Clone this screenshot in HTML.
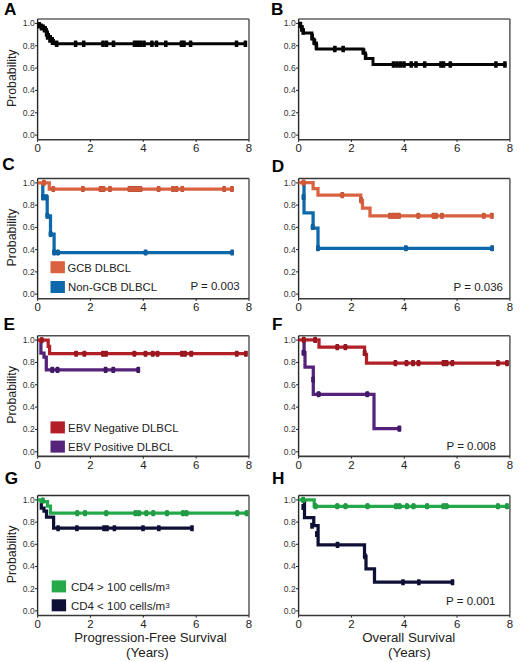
<!DOCTYPE html>
<html><head><meta charset="utf-8"><style>
html,body{margin:0;padding:0;background:#fff;}
body{width:520px;height:662px;overflow:hidden;}
svg{display:block;font-family:"Liberation Sans", sans-serif;}
</style></head><body>
<svg width="520" height="662" viewBox="0 0 520 662">
<rect width="520" height="662" fill="#fff"/>
<path d="M37.6,19.0 H249.0" fill="none" stroke="#606060" stroke-width="1.5"/>
<path d="M249.0,19.0 V139.7" fill="none" stroke="#585858" stroke-width="1.5"/>
<path d="M37.6,19.0 V139.7" fill="none" stroke="#262626" stroke-width="1.4"/>
<path d="M37.6,139.7 H249.0" fill="none" stroke="#383838" stroke-width="1.6"/>
<line x1="35.0" y1="135.10" x2="37.6" y2="135.10" stroke="#222" stroke-width="1"/>
<text x="34.7" y="138.00" font-size="8.6" fill="#333" text-anchor="end">0.0</text>
<line x1="35.0" y1="112.76" x2="37.6" y2="112.76" stroke="#222" stroke-width="1"/>
<text x="34.7" y="115.66" font-size="8.6" fill="#333" text-anchor="end">0.2</text>
<line x1="35.0" y1="90.42" x2="37.6" y2="90.42" stroke="#222" stroke-width="1"/>
<text x="34.7" y="93.32" font-size="8.6" fill="#333" text-anchor="end">0.4</text>
<line x1="35.0" y1="68.08" x2="37.6" y2="68.08" stroke="#222" stroke-width="1"/>
<text x="34.7" y="70.98" font-size="8.6" fill="#333" text-anchor="end">0.6</text>
<line x1="35.0" y1="45.74" x2="37.6" y2="45.74" stroke="#222" stroke-width="1"/>
<text x="34.7" y="48.64" font-size="8.6" fill="#333" text-anchor="end">0.8</text>
<line x1="35.0" y1="23.40" x2="37.6" y2="23.40" stroke="#222" stroke-width="1"/>
<text x="34.7" y="26.30" font-size="8.6" fill="#333" text-anchor="end">1.0</text>
<line x1="37.60" y1="139.7" x2="37.60" y2="141.89999999999998" stroke="#222" stroke-width="1"/>
<text x="37.60" y="151.80" font-size="11.4" fill="#222" text-anchor="middle">0</text>
<line x1="90.45" y1="139.7" x2="90.45" y2="141.89999999999998" stroke="#222" stroke-width="1"/>
<text x="90.45" y="151.80" font-size="11.4" fill="#222" text-anchor="middle">2</text>
<line x1="143.30" y1="139.7" x2="143.30" y2="141.89999999999998" stroke="#222" stroke-width="1"/>
<text x="143.30" y="151.80" font-size="11.4" fill="#222" text-anchor="middle">4</text>
<line x1="196.15" y1="139.7" x2="196.15" y2="141.89999999999998" stroke="#222" stroke-width="1"/>
<text x="196.15" y="151.80" font-size="11.4" fill="#222" text-anchor="middle">6</text>
<line x1="249.00" y1="139.7" x2="249.00" y2="141.89999999999998" stroke="#222" stroke-width="1"/>
<text x="249.00" y="151.80" font-size="11.4" fill="#222" text-anchor="middle">8</text>
<text transform="translate(15.5,78.3) rotate(-90)" font-size="12.35" fill="#222" text-anchor="middle">Probability</text>
<path d="M298.6,19.0 H509.9" fill="none" stroke="#606060" stroke-width="1.5"/>
<path d="M509.9,19.0 V139.7" fill="none" stroke="#585858" stroke-width="1.5"/>
<path d="M298.6,19.0 V139.7" fill="none" stroke="#262626" stroke-width="1.4"/>
<path d="M298.6,139.7 H509.9" fill="none" stroke="#383838" stroke-width="1.6"/>
<line x1="296.0" y1="135.10" x2="298.6" y2="135.10" stroke="#222" stroke-width="1"/>
<text x="295.70000000000005" y="138.00" font-size="8.6" fill="#333" text-anchor="end">0.0</text>
<line x1="296.0" y1="112.76" x2="298.6" y2="112.76" stroke="#222" stroke-width="1"/>
<text x="295.70000000000005" y="115.66" font-size="8.6" fill="#333" text-anchor="end">0.2</text>
<line x1="296.0" y1="90.42" x2="298.6" y2="90.42" stroke="#222" stroke-width="1"/>
<text x="295.70000000000005" y="93.32" font-size="8.6" fill="#333" text-anchor="end">0.4</text>
<line x1="296.0" y1="68.08" x2="298.6" y2="68.08" stroke="#222" stroke-width="1"/>
<text x="295.70000000000005" y="70.98" font-size="8.6" fill="#333" text-anchor="end">0.6</text>
<line x1="296.0" y1="45.74" x2="298.6" y2="45.74" stroke="#222" stroke-width="1"/>
<text x="295.70000000000005" y="48.64" font-size="8.6" fill="#333" text-anchor="end">0.8</text>
<line x1="296.0" y1="23.40" x2="298.6" y2="23.40" stroke="#222" stroke-width="1"/>
<text x="295.70000000000005" y="26.30" font-size="8.6" fill="#333" text-anchor="end">1.0</text>
<line x1="298.60" y1="139.7" x2="298.60" y2="141.89999999999998" stroke="#222" stroke-width="1"/>
<text x="298.60" y="151.80" font-size="11.4" fill="#222" text-anchor="middle">0</text>
<line x1="351.43" y1="139.7" x2="351.43" y2="141.89999999999998" stroke="#222" stroke-width="1"/>
<text x="351.43" y="151.80" font-size="11.4" fill="#222" text-anchor="middle">2</text>
<line x1="404.25" y1="139.7" x2="404.25" y2="141.89999999999998" stroke="#222" stroke-width="1"/>
<text x="404.25" y="151.80" font-size="11.4" fill="#222" text-anchor="middle">4</text>
<line x1="457.07" y1="139.7" x2="457.07" y2="141.89999999999998" stroke="#222" stroke-width="1"/>
<text x="457.07" y="151.80" font-size="11.4" fill="#222" text-anchor="middle">6</text>
<line x1="509.90" y1="139.7" x2="509.90" y2="141.89999999999998" stroke="#222" stroke-width="1"/>
<text x="509.90" y="151.80" font-size="11.4" fill="#222" text-anchor="middle">8</text>
<path d="M37.6,178.5 H249.0" fill="none" stroke="#383838" stroke-width="1.5"/>
<path d="M249.0,178.5 V298.7" fill="none" stroke="#585858" stroke-width="1.5"/>
<path d="M37.6,178.5 V298.7" fill="none" stroke="#262626" stroke-width="1.4"/>
<path d="M37.6,298.7 H249.0" fill="none" stroke="#383838" stroke-width="1.6"/>
<line x1="35.0" y1="294.10" x2="37.6" y2="294.10" stroke="#222" stroke-width="1"/>
<text x="34.7" y="297.00" font-size="8.6" fill="#333" text-anchor="end">0.0</text>
<line x1="35.0" y1="271.86" x2="37.6" y2="271.86" stroke="#222" stroke-width="1"/>
<text x="34.7" y="274.76" font-size="8.6" fill="#333" text-anchor="end">0.2</text>
<line x1="35.0" y1="249.62" x2="37.6" y2="249.62" stroke="#222" stroke-width="1"/>
<text x="34.7" y="252.52" font-size="8.6" fill="#333" text-anchor="end">0.4</text>
<line x1="35.0" y1="227.38" x2="37.6" y2="227.38" stroke="#222" stroke-width="1"/>
<text x="34.7" y="230.28" font-size="8.6" fill="#333" text-anchor="end">0.6</text>
<line x1="35.0" y1="205.14" x2="37.6" y2="205.14" stroke="#222" stroke-width="1"/>
<text x="34.7" y="208.04" font-size="8.6" fill="#333" text-anchor="end">0.8</text>
<line x1="35.0" y1="182.90" x2="37.6" y2="182.90" stroke="#222" stroke-width="1"/>
<text x="34.7" y="185.80" font-size="8.6" fill="#333" text-anchor="end">1.0</text>
<line x1="37.60" y1="298.7" x2="37.60" y2="300.9" stroke="#222" stroke-width="1"/>
<text x="37.60" y="310.80" font-size="11.4" fill="#222" text-anchor="middle">0</text>
<line x1="90.45" y1="298.7" x2="90.45" y2="300.9" stroke="#222" stroke-width="1"/>
<text x="90.45" y="310.80" font-size="11.4" fill="#222" text-anchor="middle">2</text>
<line x1="143.30" y1="298.7" x2="143.30" y2="300.9" stroke="#222" stroke-width="1"/>
<text x="143.30" y="310.80" font-size="11.4" fill="#222" text-anchor="middle">4</text>
<line x1="196.15" y1="298.7" x2="196.15" y2="300.9" stroke="#222" stroke-width="1"/>
<text x="196.15" y="310.80" font-size="11.4" fill="#222" text-anchor="middle">6</text>
<line x1="249.00" y1="298.7" x2="249.00" y2="300.9" stroke="#222" stroke-width="1"/>
<text x="249.00" y="310.80" font-size="11.4" fill="#222" text-anchor="middle">8</text>
<text transform="translate(15.5,237.6) rotate(-90)" font-size="12.35" fill="#222" text-anchor="middle">Probability</text>
<path d="M298.6,178.5 H509.9" fill="none" stroke="#383838" stroke-width="1.5"/>
<path d="M509.9,178.5 V298.7" fill="none" stroke="#585858" stroke-width="1.5"/>
<path d="M298.6,178.5 V298.7" fill="none" stroke="#262626" stroke-width="1.4"/>
<path d="M298.6,298.7 H509.9" fill="none" stroke="#383838" stroke-width="1.6"/>
<line x1="296.0" y1="294.10" x2="298.6" y2="294.10" stroke="#222" stroke-width="1"/>
<text x="295.70000000000005" y="297.00" font-size="8.6" fill="#333" text-anchor="end">0.0</text>
<line x1="296.0" y1="271.86" x2="298.6" y2="271.86" stroke="#222" stroke-width="1"/>
<text x="295.70000000000005" y="274.76" font-size="8.6" fill="#333" text-anchor="end">0.2</text>
<line x1="296.0" y1="249.62" x2="298.6" y2="249.62" stroke="#222" stroke-width="1"/>
<text x="295.70000000000005" y="252.52" font-size="8.6" fill="#333" text-anchor="end">0.4</text>
<line x1="296.0" y1="227.38" x2="298.6" y2="227.38" stroke="#222" stroke-width="1"/>
<text x="295.70000000000005" y="230.28" font-size="8.6" fill="#333" text-anchor="end">0.6</text>
<line x1="296.0" y1="205.14" x2="298.6" y2="205.14" stroke="#222" stroke-width="1"/>
<text x="295.70000000000005" y="208.04" font-size="8.6" fill="#333" text-anchor="end">0.8</text>
<line x1="296.0" y1="182.90" x2="298.6" y2="182.90" stroke="#222" stroke-width="1"/>
<text x="295.70000000000005" y="185.80" font-size="8.6" fill="#333" text-anchor="end">1.0</text>
<line x1="298.60" y1="298.7" x2="298.60" y2="300.9" stroke="#222" stroke-width="1"/>
<text x="298.60" y="310.80" font-size="11.4" fill="#222" text-anchor="middle">0</text>
<line x1="351.43" y1="298.7" x2="351.43" y2="300.9" stroke="#222" stroke-width="1"/>
<text x="351.43" y="310.80" font-size="11.4" fill="#222" text-anchor="middle">2</text>
<line x1="404.25" y1="298.7" x2="404.25" y2="300.9" stroke="#222" stroke-width="1"/>
<text x="404.25" y="310.80" font-size="11.4" fill="#222" text-anchor="middle">4</text>
<line x1="457.07" y1="298.7" x2="457.07" y2="300.9" stroke="#222" stroke-width="1"/>
<text x="457.07" y="310.80" font-size="11.4" fill="#222" text-anchor="middle">6</text>
<line x1="509.90" y1="298.7" x2="509.90" y2="300.9" stroke="#222" stroke-width="1"/>
<text x="509.90" y="310.80" font-size="11.4" fill="#222" text-anchor="middle">8</text>
<path d="M37.6,335.7 H249.0" fill="none" stroke="#505050" stroke-width="1.5"/>
<path d="M249.0,335.7 V456.4" fill="none" stroke="#585858" stroke-width="1.5"/>
<path d="M37.6,335.7 V456.4" fill="none" stroke="#262626" stroke-width="1.4"/>
<path d="M37.6,456.4 H249.0" fill="none" stroke="#383838" stroke-width="1.6"/>
<line x1="35.0" y1="451.80" x2="37.6" y2="451.80" stroke="#222" stroke-width="1"/>
<text x="34.7" y="454.70" font-size="8.6" fill="#333" text-anchor="end">0.0</text>
<line x1="35.0" y1="429.46" x2="37.6" y2="429.46" stroke="#222" stroke-width="1"/>
<text x="34.7" y="432.36" font-size="8.6" fill="#333" text-anchor="end">0.2</text>
<line x1="35.0" y1="407.12" x2="37.6" y2="407.12" stroke="#222" stroke-width="1"/>
<text x="34.7" y="410.02" font-size="8.6" fill="#333" text-anchor="end">0.4</text>
<line x1="35.0" y1="384.78" x2="37.6" y2="384.78" stroke="#222" stroke-width="1"/>
<text x="34.7" y="387.68" font-size="8.6" fill="#333" text-anchor="end">0.6</text>
<line x1="35.0" y1="362.44" x2="37.6" y2="362.44" stroke="#222" stroke-width="1"/>
<text x="34.7" y="365.34" font-size="8.6" fill="#333" text-anchor="end">0.8</text>
<line x1="35.0" y1="340.10" x2="37.6" y2="340.10" stroke="#222" stroke-width="1"/>
<text x="34.7" y="343.00" font-size="8.6" fill="#333" text-anchor="end">1.0</text>
<line x1="37.60" y1="456.4" x2="37.60" y2="458.59999999999997" stroke="#222" stroke-width="1"/>
<text x="37.60" y="468.50" font-size="11.4" fill="#222" text-anchor="middle">0</text>
<line x1="90.45" y1="456.4" x2="90.45" y2="458.59999999999997" stroke="#222" stroke-width="1"/>
<text x="90.45" y="468.50" font-size="11.4" fill="#222" text-anchor="middle">2</text>
<line x1="143.30" y1="456.4" x2="143.30" y2="458.59999999999997" stroke="#222" stroke-width="1"/>
<text x="143.30" y="468.50" font-size="11.4" fill="#222" text-anchor="middle">4</text>
<line x1="196.15" y1="456.4" x2="196.15" y2="458.59999999999997" stroke="#222" stroke-width="1"/>
<text x="196.15" y="468.50" font-size="11.4" fill="#222" text-anchor="middle">6</text>
<line x1="249.00" y1="456.4" x2="249.00" y2="458.59999999999997" stroke="#222" stroke-width="1"/>
<text x="249.00" y="468.50" font-size="11.4" fill="#222" text-anchor="middle">8</text>
<text transform="translate(15.5,395.0) rotate(-90)" font-size="12.35" fill="#222" text-anchor="middle">Probability</text>
<path d="M298.6,335.7 H509.9" fill="none" stroke="#505050" stroke-width="1.5"/>
<path d="M509.9,335.7 V456.4" fill="none" stroke="#585858" stroke-width="1.5"/>
<path d="M298.6,335.7 V456.4" fill="none" stroke="#262626" stroke-width="1.4"/>
<path d="M298.6,456.4 H509.9" fill="none" stroke="#383838" stroke-width="1.6"/>
<line x1="296.0" y1="451.80" x2="298.6" y2="451.80" stroke="#222" stroke-width="1"/>
<text x="295.70000000000005" y="454.70" font-size="8.6" fill="#333" text-anchor="end">0.0</text>
<line x1="296.0" y1="429.46" x2="298.6" y2="429.46" stroke="#222" stroke-width="1"/>
<text x="295.70000000000005" y="432.36" font-size="8.6" fill="#333" text-anchor="end">0.2</text>
<line x1="296.0" y1="407.12" x2="298.6" y2="407.12" stroke="#222" stroke-width="1"/>
<text x="295.70000000000005" y="410.02" font-size="8.6" fill="#333" text-anchor="end">0.4</text>
<line x1="296.0" y1="384.78" x2="298.6" y2="384.78" stroke="#222" stroke-width="1"/>
<text x="295.70000000000005" y="387.68" font-size="8.6" fill="#333" text-anchor="end">0.6</text>
<line x1="296.0" y1="362.44" x2="298.6" y2="362.44" stroke="#222" stroke-width="1"/>
<text x="295.70000000000005" y="365.34" font-size="8.6" fill="#333" text-anchor="end">0.8</text>
<line x1="296.0" y1="340.10" x2="298.6" y2="340.10" stroke="#222" stroke-width="1"/>
<text x="295.70000000000005" y="343.00" font-size="8.6" fill="#333" text-anchor="end">1.0</text>
<line x1="298.60" y1="456.4" x2="298.60" y2="458.59999999999997" stroke="#222" stroke-width="1"/>
<text x="298.60" y="468.50" font-size="11.4" fill="#222" text-anchor="middle">0</text>
<line x1="351.43" y1="456.4" x2="351.43" y2="458.59999999999997" stroke="#222" stroke-width="1"/>
<text x="351.43" y="468.50" font-size="11.4" fill="#222" text-anchor="middle">2</text>
<line x1="404.25" y1="456.4" x2="404.25" y2="458.59999999999997" stroke="#222" stroke-width="1"/>
<text x="404.25" y="468.50" font-size="11.4" fill="#222" text-anchor="middle">4</text>
<line x1="457.07" y1="456.4" x2="457.07" y2="458.59999999999997" stroke="#222" stroke-width="1"/>
<text x="457.07" y="468.50" font-size="11.4" fill="#222" text-anchor="middle">6</text>
<line x1="509.90" y1="456.4" x2="509.90" y2="458.59999999999997" stroke="#222" stroke-width="1"/>
<text x="509.90" y="468.50" font-size="11.4" fill="#222" text-anchor="middle">8</text>
<path d="M37.6,495.5 H249.0" fill="none" stroke="#2c2c2c" stroke-width="1.5"/>
<path d="M249.0,495.5 V615.5" fill="none" stroke="#585858" stroke-width="1.5"/>
<path d="M37.6,495.5 V615.5" fill="none" stroke="#262626" stroke-width="1.4"/>
<path d="M37.6,615.5 H249.0" fill="none" stroke="#383838" stroke-width="1.6"/>
<line x1="35.0" y1="610.90" x2="37.6" y2="610.90" stroke="#222" stroke-width="1"/>
<text x="34.7" y="613.80" font-size="8.6" fill="#333" text-anchor="end">0.0</text>
<line x1="35.0" y1="588.70" x2="37.6" y2="588.70" stroke="#222" stroke-width="1"/>
<text x="34.7" y="591.60" font-size="8.6" fill="#333" text-anchor="end">0.2</text>
<line x1="35.0" y1="566.50" x2="37.6" y2="566.50" stroke="#222" stroke-width="1"/>
<text x="34.7" y="569.40" font-size="8.6" fill="#333" text-anchor="end">0.4</text>
<line x1="35.0" y1="544.30" x2="37.6" y2="544.30" stroke="#222" stroke-width="1"/>
<text x="34.7" y="547.20" font-size="8.6" fill="#333" text-anchor="end">0.6</text>
<line x1="35.0" y1="522.10" x2="37.6" y2="522.10" stroke="#222" stroke-width="1"/>
<text x="34.7" y="525.00" font-size="8.6" fill="#333" text-anchor="end">0.8</text>
<line x1="35.0" y1="499.90" x2="37.6" y2="499.90" stroke="#222" stroke-width="1"/>
<text x="34.7" y="502.80" font-size="8.6" fill="#333" text-anchor="end">1.0</text>
<line x1="37.60" y1="615.5" x2="37.60" y2="617.7" stroke="#222" stroke-width="1"/>
<text x="37.60" y="627.60" font-size="11.4" fill="#222" text-anchor="middle">0</text>
<line x1="90.45" y1="615.5" x2="90.45" y2="617.7" stroke="#222" stroke-width="1"/>
<text x="90.45" y="627.60" font-size="11.4" fill="#222" text-anchor="middle">2</text>
<line x1="143.30" y1="615.5" x2="143.30" y2="617.7" stroke="#222" stroke-width="1"/>
<text x="143.30" y="627.60" font-size="11.4" fill="#222" text-anchor="middle">4</text>
<line x1="196.15" y1="615.5" x2="196.15" y2="617.7" stroke="#222" stroke-width="1"/>
<text x="196.15" y="627.60" font-size="11.4" fill="#222" text-anchor="middle">6</text>
<line x1="249.00" y1="615.5" x2="249.00" y2="617.7" stroke="#222" stroke-width="1"/>
<text x="249.00" y="627.60" font-size="11.4" fill="#222" text-anchor="middle">8</text>
<text transform="translate(15.5,554.5) rotate(-90)" font-size="12.35" fill="#222" text-anchor="middle">Probability</text>
<path d="M298.6,495.5 H509.9" fill="none" stroke="#2c2c2c" stroke-width="1.5"/>
<path d="M509.9,495.5 V615.5" fill="none" stroke="#585858" stroke-width="1.5"/>
<path d="M298.6,495.5 V615.5" fill="none" stroke="#262626" stroke-width="1.4"/>
<path d="M298.6,615.5 H509.9" fill="none" stroke="#383838" stroke-width="1.6"/>
<line x1="296.0" y1="610.90" x2="298.6" y2="610.90" stroke="#222" stroke-width="1"/>
<text x="295.70000000000005" y="613.80" font-size="8.6" fill="#333" text-anchor="end">0.0</text>
<line x1="296.0" y1="588.70" x2="298.6" y2="588.70" stroke="#222" stroke-width="1"/>
<text x="295.70000000000005" y="591.60" font-size="8.6" fill="#333" text-anchor="end">0.2</text>
<line x1="296.0" y1="566.50" x2="298.6" y2="566.50" stroke="#222" stroke-width="1"/>
<text x="295.70000000000005" y="569.40" font-size="8.6" fill="#333" text-anchor="end">0.4</text>
<line x1="296.0" y1="544.30" x2="298.6" y2="544.30" stroke="#222" stroke-width="1"/>
<text x="295.70000000000005" y="547.20" font-size="8.6" fill="#333" text-anchor="end">0.6</text>
<line x1="296.0" y1="522.10" x2="298.6" y2="522.10" stroke="#222" stroke-width="1"/>
<text x="295.70000000000005" y="525.00" font-size="8.6" fill="#333" text-anchor="end">0.8</text>
<line x1="296.0" y1="499.90" x2="298.6" y2="499.90" stroke="#222" stroke-width="1"/>
<text x="295.70000000000005" y="502.80" font-size="8.6" fill="#333" text-anchor="end">1.0</text>
<line x1="298.60" y1="615.5" x2="298.60" y2="617.7" stroke="#222" stroke-width="1"/>
<text x="298.60" y="627.60" font-size="11.4" fill="#222" text-anchor="middle">0</text>
<line x1="351.43" y1="615.5" x2="351.43" y2="617.7" stroke="#222" stroke-width="1"/>
<text x="351.43" y="627.60" font-size="11.4" fill="#222" text-anchor="middle">2</text>
<line x1="404.25" y1="615.5" x2="404.25" y2="617.7" stroke="#222" stroke-width="1"/>
<text x="404.25" y="627.60" font-size="11.4" fill="#222" text-anchor="middle">4</text>
<line x1="457.07" y1="615.5" x2="457.07" y2="617.7" stroke="#222" stroke-width="1"/>
<text x="457.07" y="627.60" font-size="11.4" fill="#222" text-anchor="middle">6</text>
<line x1="509.90" y1="615.5" x2="509.90" y2="617.7" stroke="#222" stroke-width="1"/>
<text x="509.90" y="627.60" font-size="11.4" fill="#222" text-anchor="middle">8</text>
<text x="4.0" y="15.0" font-size="17.2" font-weight="bold" fill="#000">A</text>
<text x="270.9" y="14.6" font-size="17.2" font-weight="bold" fill="#000">B</text>
<text x="2.2" y="170.3" font-size="17.2" font-weight="bold" fill="#000">C</text>
<text x="271.8" y="172.0" font-size="17.2" font-weight="bold" fill="#000">D</text>
<text x="3.6" y="330.3" font-size="17.2" font-weight="bold" fill="#000">E</text>
<text x="272.0" y="330.3" font-size="17.2" font-weight="bold" fill="#000">F</text>
<text x="4.8" y="484.2" font-size="17.2" font-weight="bold" fill="#000">G</text>
<text x="272.0" y="484.3" font-size="17.2" font-weight="bold" fill="#000">H</text>
<path d="M37.6,23.7 H39.5 V25 H41.5 V26 H43.5 V27.5 H45.5 V29.5 H46.5 V32 H47.5 V34.5 H48.5 V36.5 H50.5 V38.5 H52.5 V40.5 H53.5 V42.5 H55 V43.7 H247" fill="none" stroke="#050505" stroke-width="2.9" stroke-linejoin="miter" stroke-linecap="butt"/>
<rect x="54.90" y="40.50" width="3.60" height="6.40" rx="0.5" fill="#050505"/>
<rect x="73.80" y="40.50" width="3.60" height="6.40" rx="0.5" fill="#050505"/>
<rect x="81.90" y="40.50" width="3.60" height="6.40" rx="0.5" fill="#050505"/>
<rect x="101.20" y="40.50" width="3.60" height="6.40" rx="0.5" fill="#050505"/>
<rect x="104.70" y="40.50" width="3.60" height="6.40" rx="0.5" fill="#050505"/>
<rect x="111.70" y="40.50" width="3.60" height="6.40" rx="0.5" fill="#050505"/>
<rect x="132.70" y="40.50" width="3.60" height="6.40" rx="0.5" fill="#050505"/>
<rect x="135.70" y="40.50" width="3.60" height="6.40" rx="0.5" fill="#050505"/>
<rect x="138.70" y="40.50" width="3.60" height="6.40" rx="0.5" fill="#050505"/>
<rect x="142.20" y="40.50" width="3.60" height="6.40" rx="0.5" fill="#050505"/>
<rect x="150.10" y="40.50" width="3.60" height="6.40" rx="0.5" fill="#050505"/>
<rect x="154.70" y="40.50" width="3.60" height="6.40" rx="0.5" fill="#050505"/>
<rect x="164.00" y="40.50" width="3.60" height="6.40" rx="0.5" fill="#050505"/>
<rect x="179.70" y="40.50" width="3.60" height="6.40" rx="0.5" fill="#050505"/>
<rect x="182.20" y="40.50" width="3.60" height="6.40" rx="0.5" fill="#050505"/>
<rect x="188.80" y="40.50" width="3.60" height="6.40" rx="0.5" fill="#050505"/>
<rect x="234.70" y="40.50" width="3.60" height="6.40" rx="0.5" fill="#050505"/>
<rect x="243.60" y="40.50" width="3.60" height="6.40" rx="0.5" fill="#050505"/>
<rect x="37.20" y="22.00" width="3.60" height="6.40" rx="0.5" fill="#050505"/>
<rect x="39.70" y="24.00" width="3.60" height="6.40" rx="0.5" fill="#050505"/>
<rect x="42.70" y="26.00" width="3.60" height="6.40" rx="0.5" fill="#050505"/>
<rect x="44.80" y="30.30" width="3.60" height="6.40" rx="0.5" fill="#050505"/>
<rect x="45.80" y="33.30" width="3.60" height="6.40" rx="0.5" fill="#050505"/>
<rect x="48.20" y="36.30" width="3.60" height="6.40" rx="0.5" fill="#050505"/>
<rect x="50.70" y="38.60" width="3.60" height="6.40" rx="0.5" fill="#050505"/>
<path d="M298.6,23.5 H300.5 V26.5 H302 V30 H303.5 V33 H312 V39 H314 V43 H316.5 V49 H363 V53 H365.5 V58.5 H373 V64.5 H506.5" fill="none" stroke="#050505" stroke-width="2.9" stroke-linejoin="miter" stroke-linecap="butt"/>
<rect x="391.70" y="61.30" width="3.60" height="6.40" rx="0.5" fill="#050505"/>
<rect x="395.20" y="61.30" width="3.60" height="6.40" rx="0.5" fill="#050505"/>
<rect x="398.70" y="61.30" width="3.60" height="6.40" rx="0.5" fill="#050505"/>
<rect x="402.20" y="61.30" width="3.60" height="6.40" rx="0.5" fill="#050505"/>
<rect x="409.40" y="61.30" width="3.60" height="6.40" rx="0.5" fill="#050505"/>
<rect x="414.20" y="61.30" width="3.60" height="6.40" rx="0.5" fill="#050505"/>
<rect x="422.90" y="61.30" width="3.60" height="6.40" rx="0.5" fill="#050505"/>
<rect x="439.20" y="61.30" width="3.60" height="6.40" rx="0.5" fill="#050505"/>
<rect x="441.70" y="61.30" width="3.60" height="6.40" rx="0.5" fill="#050505"/>
<rect x="448.50" y="61.30" width="3.60" height="6.40" rx="0.5" fill="#050505"/>
<rect x="494.10" y="61.30" width="3.60" height="6.40" rx="0.5" fill="#050505"/>
<rect x="503.10" y="61.30" width="3.60" height="6.40" rx="0.5" fill="#050505"/>
<rect x="333.00" y="45.80" width="3.60" height="6.40" rx="0.5" fill="#050505"/>
<rect x="341.40" y="45.80" width="3.60" height="6.40" rx="0.5" fill="#050505"/>
<rect x="298.60" y="21.80" width="3.60" height="6.40" rx="0.5" fill="#050505"/>
<rect x="300.10" y="25.30" width="3.60" height="6.40" rx="0.5" fill="#050505"/>
<rect x="301.40" y="28.30" width="3.60" height="6.40" rx="0.5" fill="#050505"/>
<rect x="310.40" y="33.80" width="3.60" height="6.40" rx="0.5" fill="#050505"/>
<rect x="312.60" y="38.80" width="3.60" height="6.40" rx="0.5" fill="#050505"/>
<rect x="314.60" y="43.30" width="3.60" height="6.40" rx="0.5" fill="#050505"/>
<rect x="361.80" y="48.30" width="3.60" height="6.40" rx="0.5" fill="#050505"/>
<rect x="363.80" y="53.30" width="3.60" height="6.40" rx="0.5" fill="#050505"/>
<path d="M42.8,182.8 V197.2 H47.2 V215.8 H50.5 V234 H54.1 V252.5 H233.5" fill="none" stroke="#0D69AC" stroke-width="3.25" stroke-linejoin="miter" stroke-linecap="butt"/>
<rect x="56.10" y="249.45" width="3.60" height="6.10" rx="1" fill="#0A4E85"/>
<rect x="143.80" y="249.45" width="3.60" height="6.10" rx="1" fill="#0A4E85"/>
<rect x="230.40" y="249.45" width="3.60" height="6.10" rx="1" fill="#0A4E85"/>
<rect x="41.20" y="194.35" width="3.60" height="6.10" rx="1" fill="#0A4E85"/>
<rect x="44.50" y="194.35" width="3.60" height="6.10" rx="1" fill="#0A4E85"/>
<rect x="45.60" y="212.75" width="3.60" height="6.10" rx="1" fill="#0A4E85"/>
<rect x="48.80" y="230.95" width="3.60" height="6.10" rx="1" fill="#0A4E85"/>
<rect x="52.40" y="249.45" width="3.60" height="6.10" rx="1" fill="#0A4E85"/>
<rect x="56.10" y="249.90" width="3.60" height="5.20" rx="0.5" fill="#0C62A2"/>
<rect x="143.80" y="249.90" width="3.60" height="5.20" rx="0.5" fill="#0C62A2"/>
<rect x="230.40" y="249.90" width="3.60" height="5.20" rx="0.5" fill="#0C62A2"/>
<rect x="41.20" y="194.80" width="3.60" height="5.20" rx="0.5" fill="#0C62A2"/>
<rect x="44.50" y="194.80" width="3.60" height="5.20" rx="0.5" fill="#0C62A2"/>
<rect x="45.60" y="213.20" width="3.60" height="5.20" rx="0.5" fill="#0C62A2"/>
<rect x="48.80" y="231.40" width="3.60" height="5.20" rx="0.5" fill="#0C62A2"/>
<rect x="52.40" y="249.90" width="3.60" height="5.20" rx="0.5" fill="#0C62A2"/>
<path d="M37.6,182.8 H49.3 V189 H233.5" fill="none" stroke="#DA6240" stroke-width="3.25" stroke-linejoin="miter" stroke-linecap="butt"/>
<rect x="51.50" y="185.95" width="3.60" height="6.10" rx="1" fill="#A8432A"/>
<rect x="81.00" y="185.95" width="3.60" height="6.10" rx="1" fill="#A8432A"/>
<rect x="98.70" y="185.95" width="3.60" height="6.10" rx="1" fill="#A8432A"/>
<rect x="101.70" y="185.95" width="3.60" height="6.10" rx="1" fill="#A8432A"/>
<rect x="108.20" y="185.95" width="3.60" height="6.10" rx="1" fill="#A8432A"/>
<rect x="127.70" y="185.95" width="3.60" height="6.10" rx="1" fill="#A8432A"/>
<rect x="130.70" y="185.95" width="3.60" height="6.10" rx="1" fill="#A8432A"/>
<rect x="133.70" y="185.95" width="3.60" height="6.10" rx="1" fill="#A8432A"/>
<rect x="136.70" y="185.95" width="3.60" height="6.10" rx="1" fill="#A8432A"/>
<rect x="138.70" y="185.95" width="3.60" height="6.10" rx="1" fill="#A8432A"/>
<rect x="156.80" y="185.95" width="3.60" height="6.10" rx="1" fill="#A8432A"/>
<rect x="171.20" y="185.95" width="3.60" height="6.10" rx="1" fill="#A8432A"/>
<rect x="174.70" y="185.95" width="3.60" height="6.10" rx="1" fill="#A8432A"/>
<rect x="180.50" y="185.95" width="3.60" height="6.10" rx="1" fill="#A8432A"/>
<rect x="222.40" y="185.95" width="3.60" height="6.10" rx="1" fill="#A8432A"/>
<rect x="230.20" y="185.95" width="3.60" height="6.10" rx="1" fill="#A8432A"/>
<rect x="42.00" y="179.75" width="3.60" height="6.10" rx="1" fill="#A8432A"/>
<rect x="51.50" y="186.40" width="3.60" height="5.20" rx="0.5" fill="#D05A3A"/>
<rect x="81.00" y="186.40" width="3.60" height="5.20" rx="0.5" fill="#D05A3A"/>
<rect x="98.70" y="186.40" width="3.60" height="5.20" rx="0.5" fill="#D05A3A"/>
<rect x="101.70" y="186.40" width="3.60" height="5.20" rx="0.5" fill="#D05A3A"/>
<rect x="108.20" y="186.40" width="3.60" height="5.20" rx="0.5" fill="#D05A3A"/>
<rect x="127.70" y="186.40" width="3.60" height="5.20" rx="0.5" fill="#D05A3A"/>
<rect x="130.70" y="186.40" width="3.60" height="5.20" rx="0.5" fill="#D05A3A"/>
<rect x="133.70" y="186.40" width="3.60" height="5.20" rx="0.5" fill="#D05A3A"/>
<rect x="136.70" y="186.40" width="3.60" height="5.20" rx="0.5" fill="#D05A3A"/>
<rect x="138.70" y="186.40" width="3.60" height="5.20" rx="0.5" fill="#D05A3A"/>
<rect x="156.80" y="186.40" width="3.60" height="5.20" rx="0.5" fill="#D05A3A"/>
<rect x="171.20" y="186.40" width="3.60" height="5.20" rx="0.5" fill="#D05A3A"/>
<rect x="174.70" y="186.40" width="3.60" height="5.20" rx="0.5" fill="#D05A3A"/>
<rect x="180.50" y="186.40" width="3.60" height="5.20" rx="0.5" fill="#D05A3A"/>
<rect x="222.40" y="186.40" width="3.60" height="5.20" rx="0.5" fill="#D05A3A"/>
<rect x="230.20" y="186.40" width="3.60" height="5.20" rx="0.5" fill="#D05A3A"/>
<rect x="42.00" y="180.20" width="3.60" height="5.20" rx="0.5" fill="#D05A3A"/>
<rect x="50.5" y="261.2" width="14.4" height="12" fill="#DA6240"/>
<text x="67.5" y="271.5" font-size="11.2" fill="#222">GCB DLBCL</text>
<rect x="50.5" y="281.0" width="14.4" height="12" fill="#0D69AC"/>
<text x="68.1" y="291.3" font-size="11.35" fill="#222">Non-GCB DLBCL</text>
<text x="190.4" y="289.6" font-size="11.5" fill="#222">P = 0.003</text>
<path d="M304,182.6 V212.8 H313.1 V228 H318 V248.3 H493" fill="none" stroke="#0D69AC" stroke-width="3.25" stroke-linejoin="miter" stroke-linecap="butt"/>
<rect x="316.10" y="245.25" width="3.60" height="6.10" rx="1" fill="#0A4E85"/>
<rect x="404.00" y="245.25" width="3.60" height="6.10" rx="1" fill="#0A4E85"/>
<rect x="490.30" y="245.25" width="3.60" height="6.10" rx="1" fill="#0A4E85"/>
<rect x="301.70" y="193.95" width="3.60" height="6.10" rx="1" fill="#0A4E85"/>
<rect x="310.80" y="223.95" width="3.60" height="6.10" rx="1" fill="#0A4E85"/>
<rect x="316.10" y="245.70" width="3.60" height="5.20" rx="0.5" fill="#0C62A2"/>
<rect x="404.00" y="245.70" width="3.60" height="5.20" rx="0.5" fill="#0C62A2"/>
<rect x="490.30" y="245.70" width="3.60" height="5.20" rx="0.5" fill="#0C62A2"/>
<rect x="301.70" y="194.40" width="3.60" height="5.20" rx="0.5" fill="#0C62A2"/>
<rect x="310.80" y="224.40" width="3.60" height="5.20" rx="0.5" fill="#0C62A2"/>
<path d="M298.6,182.6 H313.1 V188.7 H318 V195.1 H360.8 V200.4 H362.5 V208 H370 V215.8 H493" fill="none" stroke="#DA6240" stroke-width="3.25" stroke-linejoin="miter" stroke-linecap="butt"/>
<rect x="388.20" y="212.75" width="3.60" height="6.10" rx="1" fill="#A8432A"/>
<rect x="391.20" y="212.75" width="3.60" height="6.10" rx="1" fill="#A8432A"/>
<rect x="394.20" y="212.75" width="3.60" height="6.10" rx="1" fill="#A8432A"/>
<rect x="397.20" y="212.75" width="3.60" height="6.10" rx="1" fill="#A8432A"/>
<rect x="416.50" y="212.75" width="3.60" height="6.10" rx="1" fill="#A8432A"/>
<rect x="431.70" y="212.75" width="3.60" height="6.10" rx="1" fill="#A8432A"/>
<rect x="434.20" y="212.75" width="3.60" height="6.10" rx="1" fill="#A8432A"/>
<rect x="440.10" y="212.75" width="3.60" height="6.10" rx="1" fill="#A8432A"/>
<rect x="481.90" y="212.75" width="3.60" height="6.10" rx="1" fill="#A8432A"/>
<rect x="490.00" y="212.75" width="3.60" height="6.10" rx="1" fill="#A8432A"/>
<rect x="301.70" y="179.55" width="3.60" height="6.10" rx="1" fill="#A8432A"/>
<rect x="340.50" y="192.05" width="3.60" height="6.10" rx="1" fill="#A8432A"/>
<rect x="359.40" y="197.35" width="3.60" height="6.10" rx="1" fill="#A8432A"/>
<rect x="388.20" y="213.20" width="3.60" height="5.20" rx="0.5" fill="#D05A3A"/>
<rect x="391.20" y="213.20" width="3.60" height="5.20" rx="0.5" fill="#D05A3A"/>
<rect x="394.20" y="213.20" width="3.60" height="5.20" rx="0.5" fill="#D05A3A"/>
<rect x="397.20" y="213.20" width="3.60" height="5.20" rx="0.5" fill="#D05A3A"/>
<rect x="416.50" y="213.20" width="3.60" height="5.20" rx="0.5" fill="#D05A3A"/>
<rect x="431.70" y="213.20" width="3.60" height="5.20" rx="0.5" fill="#D05A3A"/>
<rect x="434.20" y="213.20" width="3.60" height="5.20" rx="0.5" fill="#D05A3A"/>
<rect x="440.10" y="213.20" width="3.60" height="5.20" rx="0.5" fill="#D05A3A"/>
<rect x="481.90" y="213.20" width="3.60" height="5.20" rx="0.5" fill="#D05A3A"/>
<rect x="490.00" y="213.20" width="3.60" height="5.20" rx="0.5" fill="#D05A3A"/>
<rect x="301.70" y="180.00" width="3.60" height="5.20" rx="0.5" fill="#D05A3A"/>
<rect x="340.50" y="192.50" width="3.60" height="5.20" rx="0.5" fill="#D05A3A"/>
<rect x="359.40" y="197.80" width="3.60" height="5.20" rx="0.5" fill="#D05A3A"/>
<text x="453.6" y="290.5" font-size="11.5" fill="#222">P = 0.036</text>
<path d="M40.9,340.2 V353.2 H44 V357 H46.3 V369.9 H139" fill="none" stroke="#55237A" stroke-width="3.25" stroke-linejoin="miter" stroke-linecap="butt"/>
<rect x="50.50" y="366.85" width="3.60" height="6.10" rx="1" fill="#361258"/>
<rect x="55.70" y="366.85" width="3.60" height="6.10" rx="1" fill="#361258"/>
<rect x="103.80" y="366.85" width="3.60" height="6.10" rx="1" fill="#361258"/>
<rect x="111.50" y="366.85" width="3.60" height="6.10" rx="1" fill="#361258"/>
<rect x="136.50" y="366.85" width="3.60" height="6.10" rx="1" fill="#361258"/>
<rect x="50.50" y="367.30" width="3.60" height="5.20" rx="0.5" fill="#45196A"/>
<rect x="55.70" y="367.30" width="3.60" height="5.20" rx="0.5" fill="#45196A"/>
<rect x="103.80" y="367.30" width="3.60" height="5.20" rx="0.5" fill="#45196A"/>
<rect x="111.50" y="367.30" width="3.60" height="5.20" rx="0.5" fill="#45196A"/>
<rect x="136.50" y="367.30" width="3.60" height="5.20" rx="0.5" fill="#45196A"/>
<path d="M37.6,340.2 H48.2 V346.3 H49.6 V353.7 H247" fill="none" stroke="#B31F27" stroke-width="3.25" stroke-linejoin="miter" stroke-linecap="butt"/>
<rect x="74.40" y="350.65" width="3.60" height="6.10" rx="1" fill="#7A1218"/>
<rect x="82.60" y="350.65" width="3.60" height="6.10" rx="1" fill="#7A1218"/>
<rect x="101.20" y="350.65" width="3.60" height="6.10" rx="1" fill="#7A1218"/>
<rect x="104.20" y="350.65" width="3.60" height="6.10" rx="1" fill="#7A1218"/>
<rect x="132.60" y="350.65" width="3.60" height="6.10" rx="1" fill="#7A1218"/>
<rect x="143.70" y="350.65" width="3.60" height="6.10" rx="1" fill="#7A1218"/>
<rect x="150.90" y="350.65" width="3.60" height="6.10" rx="1" fill="#7A1218"/>
<rect x="155.70" y="350.65" width="3.60" height="6.10" rx="1" fill="#7A1218"/>
<rect x="180.20" y="350.65" width="3.60" height="6.10" rx="1" fill="#7A1218"/>
<rect x="183.20" y="350.65" width="3.60" height="6.10" rx="1" fill="#7A1218"/>
<rect x="189.50" y="350.65" width="3.60" height="6.10" rx="1" fill="#7A1218"/>
<rect x="234.90" y="350.65" width="3.60" height="6.10" rx="1" fill="#7A1218"/>
<rect x="244.00" y="350.65" width="3.60" height="6.10" rx="1" fill="#7A1218"/>
<rect x="39.90" y="337.15" width="3.60" height="6.10" rx="1" fill="#7A1218"/>
<rect x="74.40" y="351.10" width="3.60" height="5.20" rx="0.5" fill="#9C1820"/>
<rect x="82.60" y="351.10" width="3.60" height="5.20" rx="0.5" fill="#9C1820"/>
<rect x="101.20" y="351.10" width="3.60" height="5.20" rx="0.5" fill="#9C1820"/>
<rect x="104.20" y="351.10" width="3.60" height="5.20" rx="0.5" fill="#9C1820"/>
<rect x="132.60" y="351.10" width="3.60" height="5.20" rx="0.5" fill="#9C1820"/>
<rect x="143.70" y="351.10" width="3.60" height="5.20" rx="0.5" fill="#9C1820"/>
<rect x="150.90" y="351.10" width="3.60" height="5.20" rx="0.5" fill="#9C1820"/>
<rect x="155.70" y="351.10" width="3.60" height="5.20" rx="0.5" fill="#9C1820"/>
<rect x="180.20" y="351.10" width="3.60" height="5.20" rx="0.5" fill="#9C1820"/>
<rect x="183.20" y="351.10" width="3.60" height="5.20" rx="0.5" fill="#9C1820"/>
<rect x="189.50" y="351.10" width="3.60" height="5.20" rx="0.5" fill="#9C1820"/>
<rect x="234.90" y="351.10" width="3.60" height="5.20" rx="0.5" fill="#9C1820"/>
<rect x="244.00" y="351.10" width="3.60" height="5.20" rx="0.5" fill="#9C1820"/>
<rect x="39.90" y="337.60" width="3.60" height="5.20" rx="0.5" fill="#9C1820"/>
<rect x="50.5" y="421.4" width="14.4" height="12" fill="#B31F27"/>
<text x="68.1" y="431.7" font-size="11.35" fill="#222">EBV Negative DLBCL</text>
<rect x="50.5" y="440.6" width="14.4" height="12" fill="#55237A"/>
<text x="68.1" y="450.90000000000003" font-size="11.35" fill="#222">EBV Positive DLBCL</text>
<path d="M304.1,339.9 V352.7 H305 V367.1 H313.3 V394.3 H374 V428.6 H399.5" fill="none" stroke="#55237A" stroke-width="3.25" stroke-linejoin="miter" stroke-linecap="butt"/>
<rect x="316.80" y="391.25" width="3.60" height="6.10" rx="1" fill="#361258"/>
<rect x="365.50" y="391.25" width="3.60" height="6.10" rx="1" fill="#361258"/>
<rect x="301.70" y="349.65" width="3.60" height="6.10" rx="1" fill="#361258"/>
<rect x="311.40" y="376.45" width="3.60" height="6.10" rx="1" fill="#361258"/>
<rect x="397.60" y="425.55" width="3.60" height="6.10" rx="1" fill="#361258"/>
<rect x="316.80" y="391.70" width="3.60" height="5.20" rx="0.5" fill="#45196A"/>
<rect x="365.50" y="391.70" width="3.60" height="5.20" rx="0.5" fill="#45196A"/>
<rect x="301.70" y="350.10" width="3.60" height="5.20" rx="0.5" fill="#45196A"/>
<rect x="311.40" y="376.90" width="3.60" height="5.20" rx="0.5" fill="#45196A"/>
<rect x="397.60" y="426.00" width="3.60" height="5.20" rx="0.5" fill="#45196A"/>
<path d="M298.6,339.9 H319 V347.1 H364.6 V354.4 H366.5 V363.1 H508" fill="none" stroke="#B31F27" stroke-width="3.25" stroke-linejoin="miter" stroke-linecap="butt"/>
<rect x="393.60" y="360.05" width="3.60" height="6.10" rx="1" fill="#7A1218"/>
<rect x="404.70" y="360.05" width="3.60" height="6.10" rx="1" fill="#7A1218"/>
<rect x="411.20" y="360.05" width="3.60" height="6.10" rx="1" fill="#7A1218"/>
<rect x="416.70" y="360.05" width="3.60" height="6.10" rx="1" fill="#7A1218"/>
<rect x="441.70" y="360.05" width="3.60" height="6.10" rx="1" fill="#7A1218"/>
<rect x="444.70" y="360.05" width="3.60" height="6.10" rx="1" fill="#7A1218"/>
<rect x="450.60" y="360.05" width="3.60" height="6.10" rx="1" fill="#7A1218"/>
<rect x="496.10" y="360.05" width="3.60" height="6.10" rx="1" fill="#7A1218"/>
<rect x="505.20" y="360.05" width="3.60" height="6.10" rx="1" fill="#7A1218"/>
<rect x="301.90" y="336.85" width="3.60" height="6.10" rx="1" fill="#7A1218"/>
<rect x="313.40" y="336.85" width="3.60" height="6.10" rx="1" fill="#7A1218"/>
<rect x="335.50" y="344.05" width="3.60" height="6.10" rx="1" fill="#7A1218"/>
<rect x="343.60" y="344.05" width="3.60" height="6.10" rx="1" fill="#7A1218"/>
<rect x="362.80" y="349.95" width="3.60" height="6.10" rx="1" fill="#7A1218"/>
<rect x="393.60" y="360.50" width="3.60" height="5.20" rx="0.5" fill="#9C1820"/>
<rect x="404.70" y="360.50" width="3.60" height="5.20" rx="0.5" fill="#9C1820"/>
<rect x="411.20" y="360.50" width="3.60" height="5.20" rx="0.5" fill="#9C1820"/>
<rect x="416.70" y="360.50" width="3.60" height="5.20" rx="0.5" fill="#9C1820"/>
<rect x="441.70" y="360.50" width="3.60" height="5.20" rx="0.5" fill="#9C1820"/>
<rect x="444.70" y="360.50" width="3.60" height="5.20" rx="0.5" fill="#9C1820"/>
<rect x="450.60" y="360.50" width="3.60" height="5.20" rx="0.5" fill="#9C1820"/>
<rect x="496.10" y="360.50" width="3.60" height="5.20" rx="0.5" fill="#9C1820"/>
<rect x="505.20" y="360.50" width="3.60" height="5.20" rx="0.5" fill="#9C1820"/>
<rect x="301.90" y="337.30" width="3.60" height="5.20" rx="0.5" fill="#9C1820"/>
<rect x="313.40" y="337.30" width="3.60" height="5.20" rx="0.5" fill="#9C1820"/>
<rect x="335.50" y="344.50" width="3.60" height="5.20" rx="0.5" fill="#9C1820"/>
<rect x="343.60" y="344.50" width="3.60" height="5.20" rx="0.5" fill="#9C1820"/>
<rect x="362.80" y="350.40" width="3.60" height="5.20" rx="0.5" fill="#9C1820"/>
<text x="446.5" y="450.4" font-size="11.5" fill="#222">P = 0.008</text>
<path d="M41.3,499.9 V508 H44 V511 H46.5 V517 H53.6 V528.2 H192" fill="none" stroke="#0E1036" stroke-width="3.25" stroke-linejoin="miter" stroke-linecap="butt"/>
<rect x="56.30" y="525.15" width="3.60" height="6.10" rx="0.5" fill="#0E1036"/>
<rect x="75.10" y="525.15" width="3.60" height="6.10" rx="0.5" fill="#0E1036"/>
<rect x="102.20" y="525.15" width="3.60" height="6.10" rx="0.5" fill="#0E1036"/>
<rect x="105.20" y="525.15" width="3.60" height="6.10" rx="0.5" fill="#0E1036"/>
<rect x="112.60" y="525.15" width="3.60" height="6.10" rx="0.5" fill="#0E1036"/>
<rect x="141.20" y="525.15" width="3.60" height="6.10" rx="0.5" fill="#0E1036"/>
<rect x="157.00" y="525.15" width="3.60" height="6.10" rx="0.5" fill="#0E1036"/>
<rect x="190.20" y="525.15" width="3.60" height="6.10" rx="0.5" fill="#0E1036"/>
<path d="M37.6,499.9 H41.5 V501.5 H47.5 V506 H50.5 V513.2 H247" fill="none" stroke="#25AA4B" stroke-width="3.25" stroke-linejoin="miter" stroke-linecap="butt"/>
<rect x="75.50" y="510.15" width="3.60" height="6.10" rx="1" fill="#187F36"/>
<rect x="83.20" y="510.15" width="3.60" height="6.10" rx="1" fill="#187F36"/>
<rect x="104.50" y="510.15" width="3.60" height="6.10" rx="1" fill="#187F36"/>
<rect x="133.70" y="510.15" width="3.60" height="6.10" rx="1" fill="#187F36"/>
<rect x="137.20" y="510.15" width="3.60" height="6.10" rx="1" fill="#187F36"/>
<rect x="144.60" y="510.15" width="3.60" height="6.10" rx="1" fill="#187F36"/>
<rect x="151.50" y="510.15" width="3.60" height="6.10" rx="1" fill="#187F36"/>
<rect x="165.20" y="510.15" width="3.60" height="6.10" rx="1" fill="#187F36"/>
<rect x="181.20" y="510.15" width="3.60" height="6.10" rx="1" fill="#187F36"/>
<rect x="184.70" y="510.15" width="3.60" height="6.10" rx="1" fill="#187F36"/>
<rect x="235.50" y="510.15" width="3.60" height="6.10" rx="1" fill="#187F36"/>
<rect x="244.80" y="510.15" width="3.60" height="6.10" rx="1" fill="#187F36"/>
<rect x="41.00" y="497.45" width="3.60" height="6.10" rx="1" fill="#187F36"/>
<rect x="75.50" y="510.60" width="3.60" height="5.20" rx="0.5" fill="#219D45"/>
<rect x="83.20" y="510.60" width="3.60" height="5.20" rx="0.5" fill="#219D45"/>
<rect x="104.50" y="510.60" width="3.60" height="5.20" rx="0.5" fill="#219D45"/>
<rect x="133.70" y="510.60" width="3.60" height="5.20" rx="0.5" fill="#219D45"/>
<rect x="137.20" y="510.60" width="3.60" height="5.20" rx="0.5" fill="#219D45"/>
<rect x="144.60" y="510.60" width="3.60" height="5.20" rx="0.5" fill="#219D45"/>
<rect x="151.50" y="510.60" width="3.60" height="5.20" rx="0.5" fill="#219D45"/>
<rect x="165.20" y="510.60" width="3.60" height="5.20" rx="0.5" fill="#219D45"/>
<rect x="181.20" y="510.60" width="3.60" height="5.20" rx="0.5" fill="#219D45"/>
<rect x="184.70" y="510.60" width="3.60" height="5.20" rx="0.5" fill="#219D45"/>
<rect x="235.50" y="510.60" width="3.60" height="5.20" rx="0.5" fill="#219D45"/>
<rect x="244.80" y="510.60" width="3.60" height="5.20" rx="0.5" fill="#219D45"/>
<rect x="41.00" y="497.90" width="3.60" height="5.20" rx="0.5" fill="#219D45"/>
<rect x="51.7" y="580.4" width="14.4" height="12" fill="#25AA4B"/>
<text x="70.9" y="590.6999999999999" font-size="11.5" fill="#222">CD4 &gt; 100 cells/m<tspan font-size="8" dy="-2">3</tspan></text>
<rect x="51.7" y="599.3" width="14.4" height="12" fill="#0E1036"/>
<text x="70.9" y="609.5999999999999" font-size="11.5" fill="#222">CD4 &lt; 100 cells/m<tspan font-size="8" dy="-2">3</tspan></text>
<path d="M304.5,499.9 V517.5 H313.75 V525.7 H318.1 V544.9 H364.5 V556.3 H366 V568.8 H374.5 V582.2 H453" fill="none" stroke="#0E1036" stroke-width="3.25" stroke-linejoin="miter" stroke-linecap="butt"/>
<rect x="401.20" y="579.15" width="3.60" height="6.10" rx="0.5" fill="#0E1036"/>
<rect x="417.00" y="579.15" width="3.60" height="6.10" rx="0.5" fill="#0E1036"/>
<rect x="450.70" y="579.15" width="3.60" height="6.10" rx="0.5" fill="#0E1036"/>
<rect x="301.40" y="503.95" width="3.60" height="6.10" rx="0.5" fill="#0E1036"/>
<rect x="310.20" y="522.65" width="3.60" height="6.10" rx="0.5" fill="#0E1036"/>
<rect x="315.00" y="530.95" width="3.60" height="6.10" rx="0.5" fill="#0E1036"/>
<rect x="335.70" y="541.85" width="3.60" height="6.10" rx="0.5" fill="#0E1036"/>
<rect x="363.20" y="553.25" width="3.60" height="6.10" rx="0.5" fill="#0E1036"/>
<path d="M298.6,499.9 H314.2 V506.3 H508" fill="none" stroke="#25AA4B" stroke-width="3.25" stroke-linejoin="miter" stroke-linecap="butt"/>
<rect x="313.70" y="503.25" width="3.60" height="6.10" rx="1" fill="#187F36"/>
<rect x="335.50" y="503.25" width="3.60" height="6.10" rx="1" fill="#187F36"/>
<rect x="343.70" y="503.25" width="3.60" height="6.10" rx="1" fill="#187F36"/>
<rect x="365.70" y="503.25" width="3.60" height="6.10" rx="1" fill="#187F36"/>
<rect x="394.20" y="503.25" width="3.60" height="6.10" rx="1" fill="#187F36"/>
<rect x="397.70" y="503.25" width="3.60" height="6.10" rx="1" fill="#187F36"/>
<rect x="405.00" y="503.25" width="3.60" height="6.10" rx="1" fill="#187F36"/>
<rect x="411.70" y="503.25" width="3.60" height="6.10" rx="1" fill="#187F36"/>
<rect x="425.40" y="503.25" width="3.60" height="6.10" rx="1" fill="#187F36"/>
<rect x="441.70" y="503.25" width="3.60" height="6.10" rx="1" fill="#187F36"/>
<rect x="444.70" y="503.25" width="3.60" height="6.10" rx="1" fill="#187F36"/>
<rect x="496.10" y="503.25" width="3.60" height="6.10" rx="1" fill="#187F36"/>
<rect x="505.20" y="503.25" width="3.60" height="6.10" rx="1" fill="#187F36"/>
<rect x="301.40" y="496.85" width="3.60" height="6.10" rx="1" fill="#187F36"/>
<rect x="313.70" y="503.70" width="3.60" height="5.20" rx="0.5" fill="#219D45"/>
<rect x="335.50" y="503.70" width="3.60" height="5.20" rx="0.5" fill="#219D45"/>
<rect x="343.70" y="503.70" width="3.60" height="5.20" rx="0.5" fill="#219D45"/>
<rect x="365.70" y="503.70" width="3.60" height="5.20" rx="0.5" fill="#219D45"/>
<rect x="394.20" y="503.70" width="3.60" height="5.20" rx="0.5" fill="#219D45"/>
<rect x="397.70" y="503.70" width="3.60" height="5.20" rx="0.5" fill="#219D45"/>
<rect x="405.00" y="503.70" width="3.60" height="5.20" rx="0.5" fill="#219D45"/>
<rect x="411.70" y="503.70" width="3.60" height="5.20" rx="0.5" fill="#219D45"/>
<rect x="425.40" y="503.70" width="3.60" height="5.20" rx="0.5" fill="#219D45"/>
<rect x="441.70" y="503.70" width="3.60" height="5.20" rx="0.5" fill="#219D45"/>
<rect x="444.70" y="503.70" width="3.60" height="5.20" rx="0.5" fill="#219D45"/>
<rect x="496.10" y="503.70" width="3.60" height="5.20" rx="0.5" fill="#219D45"/>
<rect x="505.20" y="503.70" width="3.60" height="5.20" rx="0.5" fill="#219D45"/>
<rect x="301.40" y="497.30" width="3.60" height="5.20" rx="0.5" fill="#219D45"/>
<text x="446.1" y="605.1" font-size="11.5" fill="#222">P = 0.001</text>
<text x="150.5" y="642.2" font-size="13.2" fill="#222" text-anchor="middle">Progression-Free Survival</text>
<text x="147.4" y="656.8" font-size="13.4" fill="#222" text-anchor="middle">(Years)</text>
<text x="408.7" y="642.2" font-size="13.3" fill="#222" text-anchor="middle">Overall Survival</text>
<text x="409.4" y="656.9" font-size="13.4" fill="#222" text-anchor="middle">(Years)</text>
</svg>
</body></html>
